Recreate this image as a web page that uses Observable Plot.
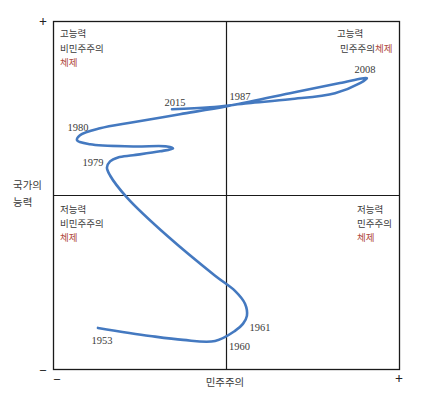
<!DOCTYPE html>
<html><head><meta charset="utf-8">
<script src="https://cdn.jsdelivr.net/npm/d3@7"></script>
<script src="https://cdn.jsdelivr.net/npm/@observablehq/plot@0.6"></script>
<style>body{margin:0;background:#fff}</style>
</head><body><div id="chart"></div>
<script>
// Trajectory: democracy (x) vs state capacity (y), -1..1
const pathX = [-0.743,-0.442,-0.251,-0.066,0.049,0.095,0.118,0.107,0.049,-0.066,-0.338,-0.575,-0.673,-0.691,-0.673,-0.627,-0.540,-0.384,-0.309,-0.344,-0.540,-0.789,-0.864,-0.847,-0.731,-0.540,-0.269,0.003,0.367,0.656,0.812,0.772,0.627,0.367,0.124,-0.095,-0.315];
const pathY = [-0.761,-0.807,-0.830,-0.836,-0.778,-0.738,-0.692,-0.622,-0.548,-0.461,-0.236,-0.012,0.115,0.161,0.196,0.219,0.231,0.254,0.271,0.282,0.282,0.294,0.317,0.346,0.386,0.421,0.467,0.513,0.588,0.646,0.674,0.646,0.588,0.553,0.530,0.507,0.496];

const yearLabels = ["1953","1961","1960","1979","1980","2015","1987","2008"];
const yearX = [-0.72,0.194,0.075,-0.772,-0.858,-0.298,0.078,0.801];
const yearY = [-0.836,-0.761,-0.870,0.190,0.392,0.536,0.571,0.726];

const quadTitles = ["고능력","고능력","저능력","저능력"];
const quadSecond = ["비민주주의","민주주의","비민주주의","민주주의"];
const quadThird = ["체제","체제","체제","체제"];
const axisYLabel = ["국가의","능력"];
const axisXLabel = "민주주의";

const gray = "#3a3a3a", red = "#b04a3e", blue = "#4479c0";
const kr = "'Noto Sans CJK KR', sans-serif";
const serif = "'Liberation Serif', serif";

const path = pathX.map((x,i)=>({x, y: pathY[i]}));
const years = yearLabels.map((t,i)=>({t, x: yearX[i], y: yearY[i]}));

const qx = {tl:-0.962, tr:0.639, bl:-0.962, br:0.754};
const qyTop = [0.928,0.841,0.761], qyBot = [-0.081,-0.161,-0.242];

const txt = (t, x, y, o={}) => Plot.text([t], {x:()=>x, y:()=>y, text:d=>d, fontFamily:kr, fontSize:9.5, fill:gray, textAnchor:"start", ...o});

const chart = Plot.plot({
  width: 430, height: 398,
  marginLeft: 53, marginRight: 31, marginTop: 21, marginBottom: 29,
  x: {domain:[-1,1], axis:null},
  y: {domain:[-1,1], axis:null},
  style: {background:"#fff"},
  marks: [
    Plot.frame({stroke:"#1a1a1a", strokeWidth:1.3}),
    Plot.ruleX([0], {stroke:"#1a1a1a", strokeWidth:1.2}),
    Plot.ruleY([0], {stroke:"#1a1a1a", strokeWidth:1.2}),
    Plot.line(path, {x:"x", y:"y", curve:"catmull-rom", stroke:blue, strokeWidth:2.6, strokeLinecap:"round", strokeLinejoin:"round"}),
    Plot.text(years, {x:"x", y:"y", text:"t", fontFamily:serif, fontSize:10.5, fill:gray}),
    // quadrant labels
    txt(quadTitles[0], qx.tl, qyTop[0]),
    txt(quadSecond[0], qx.tl, qyTop[1]),
    txt(quadThird[0], qx.tl, qyTop[2], {fill:red}),
    txt(quadTitles[1], qx.tr, qyTop[0]),
    txt(quadSecond[1], 0.858, qyTop[1], {textAnchor:"end"}),
    txt(quadThird[1], 0.858, qyTop[1], {fill:red}),
    txt(quadTitles[2], qx.bl, qyBot[0]),
    txt(quadSecond[2], qx.bl, qyBot[1]),
    txt(quadThird[2], qx.bl, qyBot[2], {fill:red}),
    txt(quadTitles[3], qx.br, qyBot[0]),
    txt(quadSecond[3], qx.br, qyBot[1]),
    txt(quadThird[3], qx.br, qyBot[2], {fill:red}),
    // axis labels
    txt(axisYLabel[0], -1.234, 0.058, {fontSize:10.5}),
    txt(axisYLabel[1], -1.234, -0.040, {fontSize:10.5}),
    txt(axisXLabel, -0.009, -1.078, {fontSize:10.5, textAnchor:"middle"}),
    // end symbols
    txt("+", -1.061, 1.0, {fontFamily:serif, fontSize:14, fontWeight:"bold", textAnchor:"middle", fill:"#222"}),
    txt("–", -1.061, -0.997, {fontFamily:serif, fontSize:12, fontWeight:"bold", textAnchor:"middle", fill:"#222"}),
    txt("–", -0.98, -1.049, {fontFamily:serif, fontSize:12, fontWeight:"bold", textAnchor:"middle", fill:"#222"}),
    txt("+", 0.997, -1.049, {fontFamily:serif, fontSize:14, fontWeight:"bold", textAnchor:"middle", fill:"#222"})
  ]
});
document.getElementById("chart").append(chart);
</script>
</body></html>
